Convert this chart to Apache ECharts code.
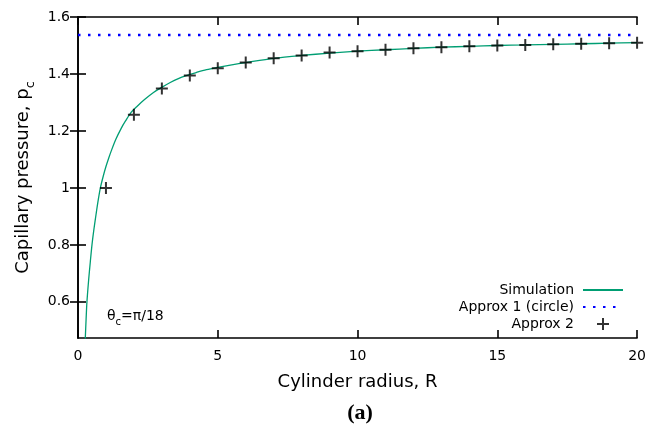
<!DOCTYPE html>
<html><head><meta charset="utf-8">
<script src="https://cdn.jsdelivr.net/npm/echarts@6/dist/echarts.min.js"></script>
<style>html,body{margin:0;padding:0;background:#fff}#c{width:649px;height:431px}</style>
</head><body><div id="c"></div>
<script>
// Simulation curve
const simR = [0.26, 0.29, 0.32, 0.38, 0.44, 0.50, 0.57, 0.65, 0.72, 0.80, 0.90, 1.0, 1.1, 1.19, 1.35, 1.55, 1.7, 1.9, 2.1, 2.38, 2.7, 2.98, 3.3, 3.57, 3.9, 4.23, 4.6, 5, 5.5, 6, 7, 8, 9, 10, 11, 12, 13, 14, 15, 16, 17, 18, 19, 20];
const simP = [0.47, 0.54, 0.60, 0.676, 0.74, 0.80, 0.855, 0.91, 0.955, 1.0, 1.04, 1.075, 1.105, 1.13, 1.17, 1.21, 1.235, 1.265, 1.285, 1.31, 1.335, 1.352, 1.37, 1.383, 1.395, 1.405, 1.415, 1.423, 1.432, 1.44, 1.455, 1.465, 1.473, 1.48, 1.485, 1.49, 1.494, 1.497, 1.5, 1.502, 1.504, 1.506, 1.508, 1.51];
// Approx 1 (circle): constant level
const approx1R = [0, 20];
const approx1P = [1.537, 1.537];
// Approx 2 points
const approx2R = [1,2,3,4,5,6,7,8,9,10,11,12,13,14,15,16,17,18,19,20];
const approx2P = [1.0, 1.257, 1.349, 1.395, 1.42, 1.44, 1.455, 1.465, 1.475, 1.48, 1.485, 1.49, 1.494, 1.497, 1.5, 1.502, 1.504, 1.506, 1.508, 1.51];
const yTicks = [0.6, 0.8, 1.0, 1.2, 1.4, 1.6];
const xTicks = [0, 5, 10, 15, 20];

const FONT = 'DejaVu Sans';
const plus = 'path://M5,0H7V5H12V7H7V12H5V7H0V5H5Z';
const zip = (a, b) => a.map((v, i) => [v, b[i]]);

const axisLineStyle = { show: true, lineStyle: { color: '#000', width: 1.6 } };
const tickStyle = { show: true, inside: true, length: 8, lineStyle: { color: '#000', width: 1.6 } };

const chart = echarts.init(document.getElementById('c'), null, { renderer: 'canvas' });
chart.setOption({
  animation: false,
  backgroundColor: '#fff',
  textStyle: { fontFamily: FONT },
  grid: { left: 78, right: 11, top: 17, bottom: 93, containLabel: false },
  title: {
    text: '(a)', left: 355, top: 397, textAlign: 'center',
    textStyle: { fontFamily: 'Liberation Serif', fontWeight: 'bold', fontSize: 22, color: '#000' }
  },
  legend: {
    orient: 'vertical', align: 'right', right: 20, top: 278,
    itemWidth: 40, itemHeight: 12, itemGap: 3,
    textStyle: { fontFamily: FONT, fontSize: 14, color: '#000', padding: [0, 4, 0, 0] },
    data: [
      { name: 'Simulation', itemStyle: { opacity: 0 } },
      { name: 'Approx 1 (circle)', itemStyle: { opacity: 0 } },
      { name: 'Approx 2', icon: plus }
    ]
  },
  graphic: [{
    type: 'text', left: 107, top: 309,
    style: {
      text: '{t|θ}{s|c}{t|=π/18}',
      rich: {
        t: { fontFamily: FONT, fontSize: 14, fill: '#000', lineHeight: 22, verticalAlign: 'middle' },
        s: { fontFamily: FONT, fontSize: 10, fill: '#000', lineHeight: 22, verticalAlign: 'bottom' }
      }
    }
  }],
  xAxis: [{
    type: 'value', min: 0, max: 20, interval: 5, position: 'bottom',
    name: 'Cylinder radius, R', nameLocation: 'middle', nameGap: 35,
    nameTextStyle: { fontFamily: FONT, fontSize: 18, color: '#000' },
    axisLine: axisLineStyle, axisTick: tickStyle, splitLine: { show: false },
    axisLabel: { margin: 11, fontFamily: FONT, fontSize: 14, color: '#000' }
  }, {
    type: 'value', min: 0, max: 20, interval: 5, position: 'top',
    axisLine: axisLineStyle, axisTick: tickStyle, splitLine: { show: false },
    axisLabel: { show: false }
  }],
  yAxis: [{
    type: 'value', min: 0.473, max: 1.6, position: 'left',
    name: '{n|Capillary pressure, p}{s|c}', nameLocation: 'middle', nameGap: 39,
    nameTextStyle: {
      color: '#000',
      rich: {
        n: { fontFamily: FONT, fontSize: 18, color: '#000', lineHeight: 28, verticalAlign: 'middle' },
        s: { fontFamily: FONT, fontSize: 13, color: '#000', lineHeight: 28, verticalAlign: 'bottom' }
      }
    },
    axisLine: axisLineStyle,
    axisTick: Object.assign({}, tickStyle, { customValues: yTicks }),
    splitLine: { show: false },
    axisLabel: {
      customValues: yTicks, margin: 8, fontFamily: FONT, fontSize: 14, color: '#000',
      formatter: v => String(+(+v).toFixed(1))
    }
  }, {
    type: 'value', min: 0.473, max: 1.6, position: 'right',
    axisLine: axisLineStyle,
    axisTick: Object.assign({}, tickStyle, { customValues: yTicks }),
    splitLine: { show: false },
    axisLabel: { show: false }
  }],
  series: [{
    name: 'Simulation', type: 'line', symbol: 'none', smooth: 0.3,
    data: zip(simR, simP), clip: true,
    lineStyle: { color: '#009e73', width: 1.3 }, itemStyle: { color: '#009e73' }, z: 2
  }, {
    name: 'Approx 1 (circle)', type: 'line', symbol: 'none',
    data: zip(approx1R, approx1P), clip: true,
    lineStyle: { color: '#0000ff', width: 2.5, type: [2.5, 7.5] }, itemStyle: { color: '#0000ff' }, z: 2
  }, {
    name: 'Approx 2', type: 'scatter', symbol: plus, symbolSize: 12, symbolKeepAspect: true,
    data: zip(approx2R, approx2P), clip: false,
    itemStyle: { color: '#000' }, z: 3
  }]
});
</script></body></html>
